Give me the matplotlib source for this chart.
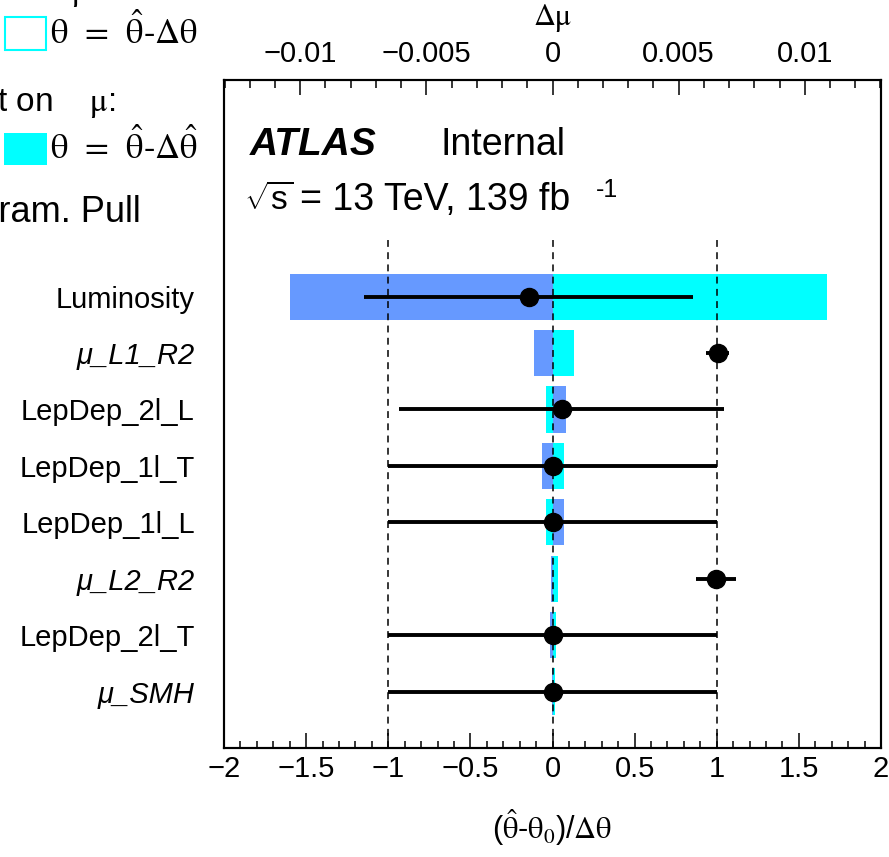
import matplotlib
matplotlib.use("Agg")
import matplotlib.pyplot as plt
from matplotlib.patches import Rectangle
from matplotlib.ticker import MultipleLocator, FuncFormatter

# Nuisance parameters, top to bottom
params = ["Luminosity", "μ_L1_R2", "LepDep_2l_L", "LepDep_1l_T",
          "LepDep_1l_L", "μ_L2_R2", "LepDep_2l_T", "μ_SMH"]
italic_params = {"μ_L1_R2", "μ_L2_R2", "μ_SMH"}

# Pulls (θ̂-θ0)/Δθ and their post-fit errors
pull = [-0.145, 1.005, 0.055, 0.0, 0.0, 0.995, 0.0, 0.0]
pull_err = [1.0, 0.07, 0.99, 1.0, 1.0, 0.12, 1.0, 1.0]

# Post-fit impact on mu (Δμ) for θ = θ̂+Δθ̂ and θ = θ̂-Δθ̂
impact_up = [-0.0104, -0.00073, 0.00054, -0.00042, 0.00046, -0.00007, -0.0001, -0.00003]
impact_dn = [0.01086, 0.00085, -0.00025, 0.00046, -0.00026, 0.0002, 0.00012, 0.0001]

plt.rcParams["font.family"] = ["Liberation Sans", "DejaVu Sans"]
plt.rcParams["mathtext.fontset"] = "custom"
plt.rcParams["mathtext.rm"] = "Liberation Sans"
plt.rcParams["mathtext.it"] = "Liberation Sans:italic"
plt.rcParams["mathtext.bf"] = "Liberation Sans:bold"

W, H = 889, 857
fig = plt.figure(figsize=(W / 100, H / 100), dpi=100)


def fx(x):
    return x / W


def fy(y):
    return 1 - y / H


ax_l, ax_r, ax_t, ax_b = 224, 881, 80, 748
ax = fig.add_axes([fx(ax_l), fy(ax_b), (ax_r - ax_l) / W, (ax_b - ax_t) / H])
ax2 = ax.twiny()
ax2.set_zorder(0)
ax.set_zorder(1)
ax.patch.set_visible(False)

n = len(params)
rows = [n - i for i in range(n)]
ymax = 11.84

# Impact bars on the Δμ axis
bar_h = 0.82
ax2.barh(rows, impact_dn, height=bar_h, color="#00ffff", linewidth=0)
ax2.barh(rows, impact_up, height=bar_h, color="#6699ff", linewidth=0)
ax2.set_xlim(-0.01302, 0.01302)

# Reference lines at -1, 0, +1
ax.vlines([-1, 0, 1], 0, 9.0, colors="black", linestyles=(0, (4.5, 3.5)), lw=1.1, zorder=2)

# Pulls with error bars
ax.errorbar(pull, rows, xerr=pull_err, fmt="o", color="black", ms=13,
            elinewidth=2.8, capsize=0, zorder=3)

ax.set_xlim(-2, 2)
ax.set_ylim(0, ymax)

fmt = FuncFormatter(lambda v, p: ("%g" % v).replace("-", "\u2212"))

ax.xaxis.set_major_locator(MultipleLocator(0.5))
ax.xaxis.set_minor_locator(MultipleLocator(0.1))
ax.xaxis.set_major_formatter(fmt)
ax.tick_params(axis="x", which="both", direction="in", bottom=True, top=False,
               labelsize=21, pad=5)
ax.tick_params(axis="x", which="major", length=10.8, width=1.1)
ax.tick_params(axis="x", which="minor", length=5.4, width=1.1)

ax.set_yticks(rows)
ax.set_yticklabels(params)
ax.tick_params(axis="y", length=0, labelsize=21, pad=21)
for lab in ax.get_yticklabels():
    if lab.get_text() in italic_params:
        lab.set_fontstyle("italic")

ax2.set_xticks([-0.01, -0.005, 0, 0.005, 0.01])
ax2.xaxis.set_minor_locator(MultipleLocator(0.001))
ax2.xaxis.set_major_formatter(fmt)
ax2.tick_params(axis="x", which="both", direction="in", top=True, bottom=False,
                labeltop=True, labelbottom=False, labelsize=21, pad=9)
ax2.tick_params(axis="x", which="major", length=10.8, width=1.1)
ax2.tick_params(axis="x", which="minor", length=5.4, width=1.1)

for a in (ax, ax2):
    for s in a.spines.values():
        s.set_linewidth(1.5)

ax.set_xlabel(r"($\mathrm{\hat{\theta}}$-$\mathrm{\theta}_0$)/$\mathrm{\Delta\theta}$",
              fontsize=22, math_fontfamily="stix")
ax.xaxis.set_label_coords(0.5, -(828 - ax_b) / (ax_b - ax_t))
ax.xaxis.label.set_va("center")

ax2.set_xlabel("Δμ", fontsize=22, family="STIXGeneral")
ax2.xaxis.set_label_coords(0.5, 1 + (ax_t - 18) / (ax_b - ax_t))
ax2.xaxis.label.set_va("center")

# ATLAS label
fig.text(fx(250), fy(155), "ATLAS", fontsize=28, fontweight="bold", fontstyle="italic",
         va="baseline")
fig.text(fx(440), fy(155), "Internal", fontsize=27, va="baseline")
fig.text(fx(244), fy(210), r"$\sqrt{\mathrm{s}}$", fontsize=24, va="baseline")
fig.text(fx(300), fy(210), "= 13 TeV, 139 fb", fontsize=27, va="baseline")
fig.text(fx(596), fy(197), "-1", fontsize=18, va="baseline")

# Legend (partly outside the canvas)
theta_pre = r"$\mathrm{\theta}$  =  $\mathrm{\hat{\theta}}$-$\mathrm{\Delta\theta}$"
theta_post = r"$\mathrm{\theta}$  =  $\mathrm{\hat{\theta}}$-$\mathrm{\Delta\hat{\theta}}$"

fig.text(fx(97), fy(0), r"Pre-fit impact on    $\mathrm{\mu}$:", fontsize=24, ha="right",
         va="baseline", math_fontfamily="stix")
fig.add_artist(Rectangle((fx(5), fy(50)), (46 - 5) / W, (50 - 17) / H,
                         transform=fig.transFigure, facecolor="white",
                         edgecolor="#00ffff", lw=1.5))
fig.text(fx(198), fy(33), theta_pre, fontsize=25, ha="right", va="center",
         family="STIXGeneral", math_fontfamily="stix")

fig.text(fx(116), fy(103), r"Post-fit impact on    $\mathrm{\mu}$:", fontsize=24, ha="right",
         va="center", math_fontfamily="stix")
fig.add_artist(Rectangle((fx(4), fy(165)), (47 - 4) / W, (165 - 133) / H,
                         transform=fig.transFigure, facecolor="#00ffff", lw=0))
fig.text(fx(198), fy(148), theta_post, fontsize=25, ha="right", va="center",
         family="STIXGeneral", math_fontfamily="stix")

fig.text(fx(141), fy(212), "Nuis. Param. Pull", fontsize=26, ha="right", va="center")

fig.savefig("out.png", dpi=100)
